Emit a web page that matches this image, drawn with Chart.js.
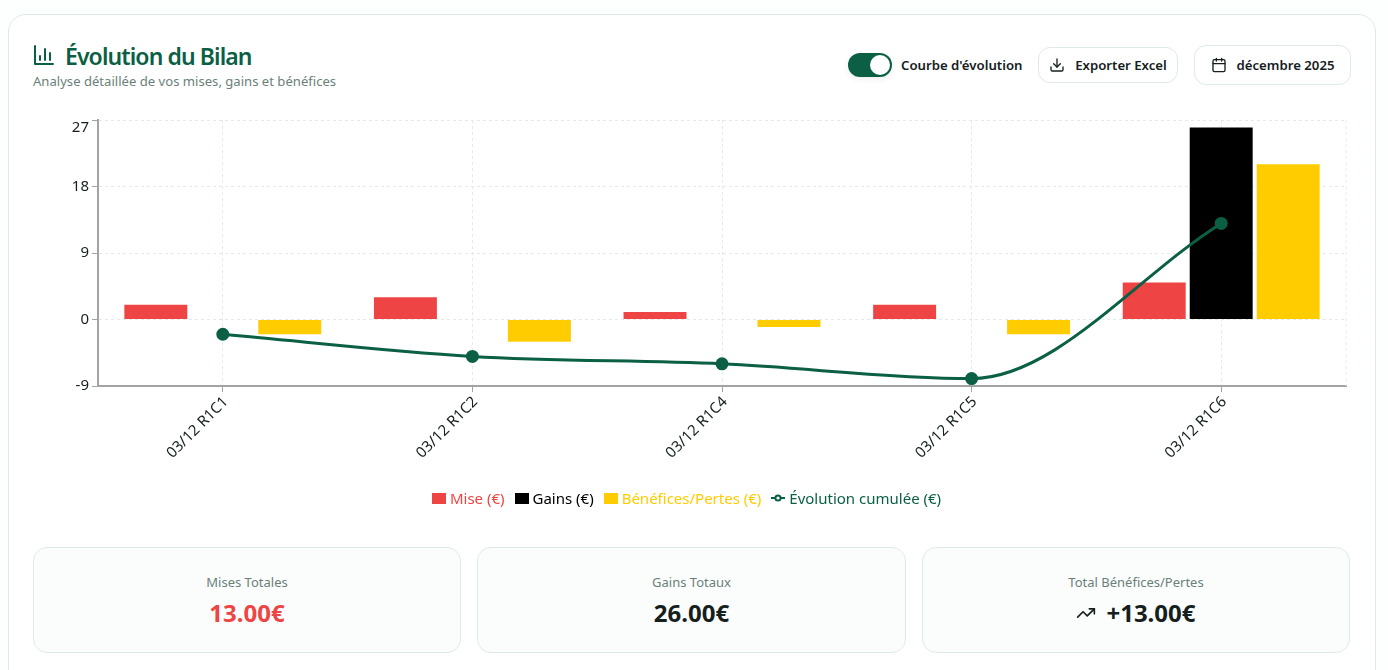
<!DOCTYPE html>
<html lang="fr">
<head>
<meta charset="utf-8">
<title>Évolution du Bilan</title>
<script src="https://cdn.jsdelivr.net/npm/chart.js@4/dist/chart.umd.min.js"></script>
<style>
  * { box-sizing: border-box; }
  html, body { margin: 0; height: 100%; overflow: hidden; background: #fdfefe; }
  body { font-family: "Noto Sans", "Open Sans", sans-serif; color: #15201d; }
  .card { position: absolute; left: 8px; top: 14px; width: 1368px; height: 700px; background: #fff; border: 1px solid #dfeae7; border-radius: 18px; }
  .abs { position: absolute; white-space: nowrap; }
  .title { left: 65px; top: 39px; font-size: 23px; line-height: 34px; font-weight: 600; color: #0a5f44; letter-spacing: -0.9px; }
  .subtitle { left: 33px; top: 72px; font-size: 13.1px; line-height: 18px; color: #6b7f7a; }
  .toggle { left: 848px; top: 53px; width: 44px; height: 24px; border-radius: 12px; background: #0a5f44; box-shadow: 0 2px 6px rgba(0,0,0,.08); }
  .toggle i { position: absolute; left: 22px; top: 2px; width: 20px; height: 20px; border-radius: 50%; background: #fff; }
  .toggle-label { left: 901px; top: 55px; font-size: 13.2px; line-height: 20px; font-weight: 600; }
  .btn { display: flex; align-items: center; justify-content: center; gap: 10px; border: 1px solid #dfeae7; border-radius: 12px; background: #fff; font-size: 13.2px; font-weight: 600; }
  .chart-wrap { position: absolute; left: 33px; top: 102px; width: 1321px; height: 404px; }
  .legend { position: absolute; left: 33px; top: 487px; width: 1307px; height: 22px; display: flex; justify-content: center; align-items: center; gap: 10px; font-size: 15px; }
  .legend span { display: flex; align-items: center; gap: 4px; }
  .legend i { display: block; width: 14px; height: 11px; }
  .legend canvas { display: block; }
  .stat { position: absolute; top: 547px; height: 106px; background: #fbfdfc; border: 1px solid #dfeae7; border-radius: 14px; text-align: center; }
  .stat .label { margin-top: 24px; font-size: 13px; line-height: 20px; color: #6b7f7a; }
  .stat .value { margin-top: 5px; font-size: 24px; line-height: 32px; font-weight: 700; display: flex; justify-content: center; align-items: center; gap: 10px; }
</style>
</head>
<body>
<div class="card"></div>

<svg class="abs" style="left:32px;top:43px" width="24" height="24" viewBox="0 0 24 24" fill="none" stroke="#0a5f44" stroke-width="2" stroke-linecap="round" stroke-linejoin="round"><path d="M3 3v18h18"/><path d="M8 17v-4"/><path d="M13 17V6"/><path d="M18 17v-7"/></svg>
<div class="abs title">Évolution du Bilan</div>
<div class="abs subtitle">Analyse détaillée de vos mises, gains et bénéfices</div>

<div class="abs toggle"><i></i></div>
<div class="abs toggle-label">Courbe d'évolution</div>
<div class="abs btn" style="left:1038px;top:47px;width:140px;height:36px">
  <svg width="16" height="16" viewBox="0 0 24 24" fill="none" stroke="#15201d" stroke-width="2" stroke-linecap="round" stroke-linejoin="round"><path d="M21 15v4a2 2 0 0 1-2 2H5a2 2 0 0 1-2-2v-4"/><path d="M7 10l5 5 5-5"/><path d="M12 15V3"/></svg>
  Exporter Excel
</div>
<div class="abs btn" style="left:1194px;top:45px;width:157px;height:40px">
  <svg width="16" height="16" viewBox="0 0 24 24" fill="none" stroke="#15201d" stroke-width="2" stroke-linecap="round" stroke-linejoin="round"><rect x="3" y="4" width="18" height="18" rx="2"/><path d="M16 2v4M8 2v4M3 10h18"/></svg>
  décembre 2025
</div>

<div class="chart-wrap"><canvas id="bilanChart"></canvas></div>
<div class="legend" id="bilanLegend"></div>

<div class="stat" style="left:33px;width:428px">
  <div class="label">Mises Totales</div>
  <div class="value" style="color:#ef4444">13.00€</div>
</div>
<div class="stat" style="left:477px;width:429px">
  <div class="label">Gains Totaux</div>
  <div class="value">26.00€</div>
</div>
<div class="stat" style="left:922px;width:428px">
  <div class="label">Total Bénéfices/Pertes</div>
  <div class="value">
    <svg width="20" height="20" viewBox="0 0 24 24" fill="none" stroke="#15201d" stroke-width="2" stroke-linecap="round" stroke-linejoin="round"><path d="M22 7l-8.5 8.5-5-5L2 17"/><path d="M16 7h6v6"/></svg>
    +13.00€
  </div>
</div>

<script>
// Data
const categories = ["03/12 R1C1", "03/12 R1C2", "03/12 R1C4", "03/12 R1C5", "03/12 R1C6"];
const miseValues = [2, 3, 1, 2, 5];
const gainsValues = [0, 0, 0, 0, 26];
const beneficesValues = [-2, -3, -1, -2, 21];
const cumulValues = [-2, -5, -6, -8, 13];
const yTicks = [-9, 0, 9, 18, 27];

const RED = "#ef4444";
const BLACK = "#000000";
const YELLOW = "#ffcc00";
const GREEN = "#0a5f44";
const GRID = "#e3ebe9";
const AXIS = "#a3a3a3";
const FONT = "'Noto Sans', 'Open Sans', sans-serif";

// Legend icon for the line series
function lineIcon() {
  const c = document.createElement("canvas");
  c.width = 14;
  c.height = 8;
  const g = c.getContext("2d");
  g.strokeStyle = GREEN;
  g.lineWidth = 2;
  g.beginPath();
  g.moveTo(0, 4);
  g.lineTo(14, 4);
  g.stroke();
  g.fillStyle = "#fff";
  g.beginPath();
  g.arc(7, 4, 2.6, 0, Math.PI * 2);
  g.fill();
  g.stroke();
  return c;
}

// Dashed right edge of the plot
const plotEdges = {
  id: "plotEdges",
  beforeDatasetsDraw(chart) {
    const { ctx, chartArea: a } = chart;
    ctx.save();
    ctx.strokeStyle = GRID;
    ctx.lineWidth = 1;
    ctx.setLineDash([3, 3]);
    ctx.beginPath();
    ctx.moveTo(a.right, a.top);
    ctx.lineTo(a.right, a.bottom);
    ctx.stroke();
    ctx.restore();
  },
};

function barDataset(label, data, color) {
  return {
    label: label,
    data: data,
    backgroundColor: color,
    order: 2,
    categoryPercentage: 0.805,
    barPercentage: 0.94,
  };
}

const bilanChart = new Chart(document.getElementById("bilanChart"), {
  type: "bar",
  data: {
    labels: categories,
    datasets: [
      barDataset("Mise (€)", miseValues, RED),
      barDataset("Gains (€)", gainsValues, BLACK),
      barDataset("Bénéfices/Pertes (€)", beneficesValues, YELLOW),
      {
        type: "line",
        label: "Évolution cumulée (€)",
        data: cumulValues,
        borderColor: GREEN,
        backgroundColor: GREEN,
        borderWidth: 3,
        pointRadius: 5,
        pointBackgroundColor: GREEN,
        pointBorderColor: GREEN,
        cubicInterpolationMode: "monotone",
        order: 1,
      },
    ],
  },
  options: {
    responsive: true,
    maintainAspectRatio: false,
    animation: false,
    layout: { padding: { top: 10, right: 0 } },
    plugins: {
      tooltip: { enabled: false },
      legend: { display: false },
    },
    scales: {
      x: {
        afterFit(scale) { scale.height = 120; },
        border: { color: AXIS, width: 2, dash: [3, 3] },
        grid: { color: GRID, offset: false, tickColor: AXIS, tickLength: 6 },
        ticks: {
          color: "#15201d",
          font: { family: FONT, size: 15 },
          minRotation: 45,
          maxRotation: 45,
          padding: 1,
          labelOffset: 3,
        },
      },
      y: {
        min: -9,
        max: 27,
        afterFit(scale) { scale.width = 65; },
        afterBuildTicks(scale) { scale.ticks = yTicks.map((v) => ({ value: v })); },
        border: { color: AXIS, width: 2, dash: [3, 3] },
        grid: { color: GRID, tickColor: AXIS, tickLength: 6 },
        ticks: {
          color: "#15201d",
          font: { family: FONT, size: 15, lineHeight: 1 },
          padding: 3,
          // top label sits below its tick, as in the app
          callback: (v) => (v === 27 ? ["", "27"] : String(v)),
        },
      },
    },
  },
  plugins: [plotEdges],
});

// Legend built from the chart's datasets
const legendEl = document.getElementById("bilanLegend");
bilanChart.data.datasets.forEach((ds) => {
  const item = document.createElement("span");
  item.style.color = ds.backgroundColor;
  if (ds.type === "line") {
    item.appendChild(lineIcon());
  } else {
    const box = document.createElement("i");
    box.style.background = ds.backgroundColor;
    item.appendChild(box);
  }
  item.appendChild(document.createTextNode(ds.label));
  legendEl.appendChild(item);
});
</script>
</body>
</html>
